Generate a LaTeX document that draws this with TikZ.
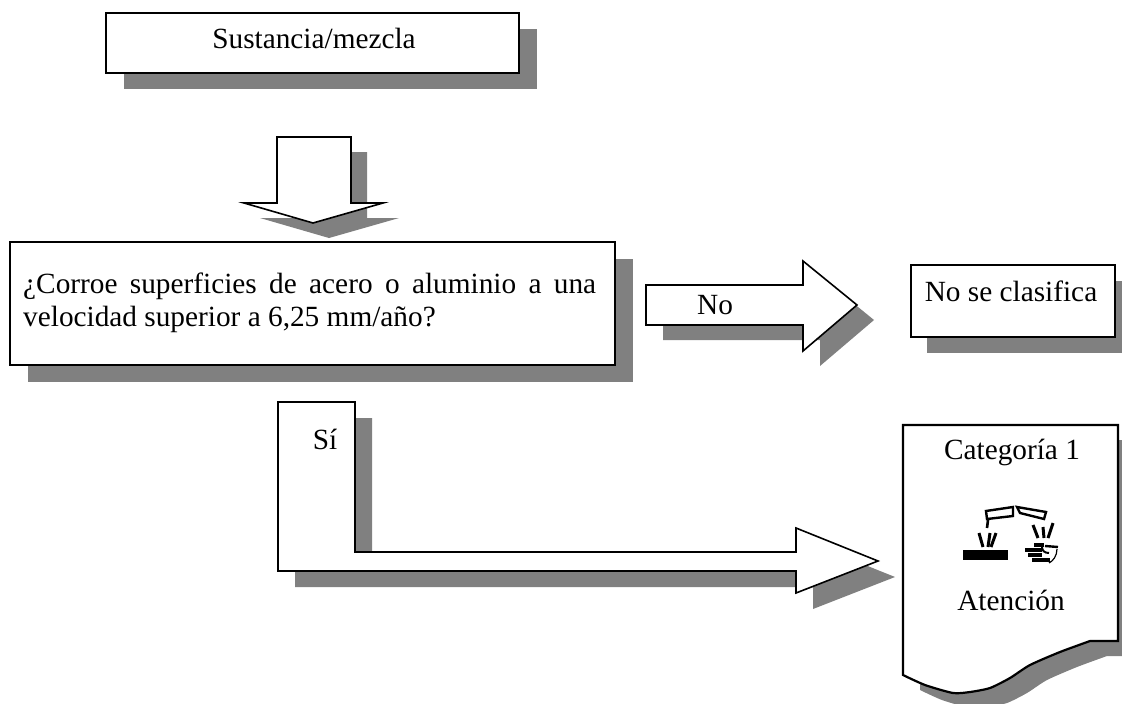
\documentclass[tikz,border=0pt]{standalone}
\usepackage{fontspec}
\setmainfont[Ligatures=NoCommon]{Liberation Serif}
\usepackage{xcolor}
\definecolor{shadowgray}{gray}{0.5}
\tikzset{
	shadowfill/.style = {fill=shadowgray, draw=none},
	shapeline/.style = {draw=black, fill=white, line width=1.6pt, line join=miter},
	boxline/.style = {shapeline, line width=2.2pt},
	textlabel/.style = {anchor=base, inner sep=0pt, font=\fontsize{29.3}{33}\selectfont},
	glyphink/.style = {fill=black, draw=none}
}
% #1 style, #2 shadow offset, #3 outline
\newcommand{\shadowshape}[3]{
	\fill[shadowfill, shift={#2}] #3;
	\path[#1] #3;
}
\begin{document}
\begin{tikzpicture}[x=1pt, y=-1pt]
	\useasboundingbox (0, 0) rectangle (1122, 704);
	\clip (0, 0) rectangle (1122, 704);
	\fill[white] (0, 0) rectangle (1122, 704);

	\shadowshape{boxline}{(18, 16)}{(106, 13) -- (519, 13) -- (519, 73) -- (106, 73) -- cycle}
	\node[textlabel] (sustancia) at (314, 48) {Sustancia/mezcla};

	% Down arrow
	\shadowshape{shapeline}{(16, 15)}{(277, 137) -- (351, 137) -- (351, 203) -- (383, 203) -- (313, 223) -- (244, 203) -- (277, 203) -- cycle}

	\shadowshape{boxline}{(18, 17)}{(10, 242) -- (615, 242) -- (615, 365) -- (10, 365) -- cycle}
	\node[textlabel, anchor=north west, text width=573pt, align=justify] (pregunta) at (23, 273) {¿Corroe superficies de acero o aluminio a una\linebreak velocidad superior a 6,25 mm/año?};

	% No arrow
	\shadowshape{shapeline}{(17, 15)}{(646, 285) -- (803, 285) -- (803, 261) -- (857, 305) -- (803, 351) -- (803, 325) -- (646, 325) -- cycle}
	\node[textlabel] (no) at (715, 314) {No};

	\shadowshape{boxline}{(16, 16)}{(911, 265) -- (1115, 265) -- (1115, 337) -- (911, 337) -- cycle}
	\node[textlabel] (noclasifica) at (1011, 301) {No se clasifica};

	% Si arrow
	\shadowshape{shapeline}{(17, 16)}{(278, 402) -- (355, 402) -- (355, 552) -- (796, 552) -- (796, 528) -- (878, 561) -- (796, 593) -- (796, 571) -- (278, 571) -- cycle}
	\node[textlabel] (si) at (325, 449) {Sí};

	% Category sheet with wavy lower edge
	\shadowshape{boxline}{(17, 15)}{(903, 425) -- (1118, 425) -- (1118, 641) -- (1090, 641) -- plot [smooth, tension=0.4] coordinates {(1090, 641) (1060, 652) (1030, 665) (1010, 678) (990, 688) (970, 692) (953, 693) (925, 685) (903, 675)} -- cycle}
	\node[textlabel] (categoria) at (1012, 459) {Categoría 1};
	\node[textlabel] (atencion) at (1011, 610) {Atención};

	% Corrosion pictogram
	\draw[line width=2.4pt, fill=white] (986, 511) -- (1013, 507) -- (1013, 516) -- (987, 519) -- cycle;
	\draw[line width=2.4pt, fill=white] (1017, 507) -- (1046, 512) -- (1044, 519) -- (1020, 513) -- cycle;
	\fill[glyphink] (963, 550) rectangle (1008, 560);
	\draw[line width=2.6pt] (988, 520) -- (987, 528);
	\foreach \xa/\xb in {979/983, 990/988, 996/991}
		\draw[line width=3pt] (\xa, 533) -- (\xb, 547);
	\foreach \xa/\xb/\ya in {1033/1038/525, 1043/1044/527, 1053/1048/523}
		\draw[line width=3pt] (\xa, \ya) -- (\xb, 538);
	% Hand
	\foreach \ya/\xa/\xb in {545/1034/1044, 550/1025/1042, 555/1028/1042, 560/1032/1050}
		\draw[line width=4pt] (\xa, \ya) -- (\xb, \ya);
	\draw[line width=2.4pt] (1045, 546) -- (1058, 547);
	\draw[line width=1.2pt] (1057, 549) .. controls (1057, 556) and (1053, 561) .. (1049, 563);
	\draw[line width=2pt] (1042, 547) .. controls (1042, 551) and (1045, 553) .. (1049, 553);
\end{tikzpicture}
\end{document}
